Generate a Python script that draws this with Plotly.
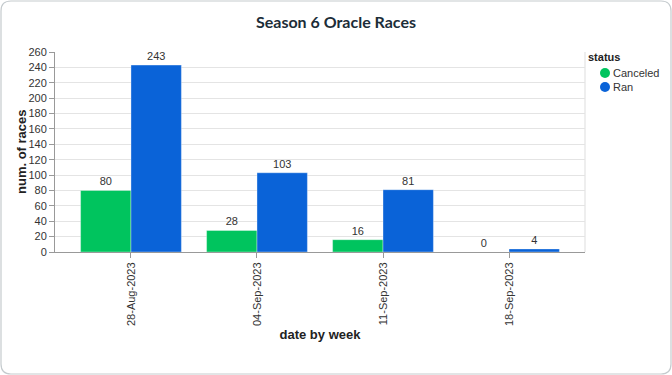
import plotly.graph_objects as go

weeks = ["28-Aug-2023", "04-Sep-2023", "11-Sep-2023", "18-Sep-2023"]
canceled = [80, 28, 16, 0]
ran = [243, 103, 81, 4]
series_names = ["Canceled", "Ran"]
colors = ["#00C45E", "#0A63D8"]

W, H = 672, 375
PL, PR, PT, PB = 55, 585, 52, 252  # plot area in pixels


def px(x):
    return (x - PL) / (PR - PL)


def py(y):
    return (PB - y) / (PB - PT)


fig = go.Figure()
for name, vals, col in zip(series_names, [canceled, ran], colors):
    fig.add_trace(go.Bar(
        x=weeks, y=vals, name=name, showlegend=False,
        marker=dict(color=col, line=dict(color="rgba(255,255,255,0.35)", width=1)),
        text=[str(v) for v in vals], textposition="outside",
        textfont=dict(family="Liberation Sans, Arial", size=11, color="#333"),
        cliponaxis=False,
    ))

fig.update_layout(
    width=W, height=H,
    margin=dict(l=PL, r=W - PR, t=PT, b=H - PB, autoexpand=False),
    paper_bgcolor="white", plot_bgcolor="white",
    barmode="group", bargap=0.2, bargroupgap=0,
    title=dict(text="<b>Season 6 Oracle Races</b>", x=0.5, xanchor="center",
               y=1 - 22 / H, yanchor="middle",
               font=dict(family="Lato, Inter, sans-serif", size=16, color="#1C2D38")),
    font=dict(family="Liberation Sans, Arial", size=11, color="#333"),
    showlegend=False,
)
fig.update_xaxes(
    range=[-0.603, 3.603], tickangle=-90, showgrid=False, automargin=False,
    showline=True, linecolor="#999", linewidth=1,
    ticks="outside", ticklen=5, tickcolor="#999",
    tickfont=dict(size=11, color="#333"),
    title=dict(text="<b>date by week</b>", font=dict(size=13, color="#222"), standoff=4),
)
fig.update_yaxes(
    range=[0, 260], dtick=20, showgrid=True, gridcolor="#E4E4E4", automargin=False,
    showline=True, linecolor="#999", linewidth=1,
    ticks="outside", ticklen=5, tickcolor="#999",
    tickfont=dict(size=11, color="#333"), zeroline=False,
)
# y axis title
fig.add_annotation(text="<b>num. of races</b>", xref="paper", yref="paper", x=px(21), y=0.5,
                   xanchor="center", yanchor="middle", textangle=-90, showarrow=False,
                   font=dict(size=13, color="#222"))
# right border of plot area
fig.add_shape(type="line", xref="paper", yref="paper", x0=1, x1=1, y0=0, y1=1,
              line=dict(color="#DDDDDD", width=1), layer="below")

# legend (drawn manually to match circular swatches)
fig.add_annotation(text="<b>status</b>", xref="paper", yref="paper", x=px(586), y=py(57),
                   xanchor="left", yanchor="middle", showarrow=False,
                   font=dict(size=11, color="#222"))
for i, (name, col) in enumerate(zip(series_names, colors)):
    cy = py(73 + 14 * i)
    fig.add_shape(type="circle", xref="paper", yref="paper", xsizemode="pixel", ysizemode="pixel",
                  xanchor=px(605), yanchor=cy, x0=-5, x1=5, y0=-5, y1=5,
                  fillcolor=col, line=dict(width=0))
    fig.add_annotation(text=name, xref="paper", yref="paper", x=px(611), y=cy,
                       xanchor="left", yanchor="middle", showarrow=False,
                       font=dict(size=11, color="#333"))

# card border with rounded corners (pixels relative to plot bottom-left)
L, R, B, T, r = 1 - PL, 671 - PL, PB - 374, PB - 1, 10
path = (f"M {L+r},{T} L {R-r},{T} Q {R},{T} {R},{T-r} L {R},{B+r} Q {R},{B} {R-r},{B} "
        f"L {L+r},{B} Q {L},{B} {L},{B+r} L {L},{T-r} Q {L},{T} {L+r},{T} Z")
fig.add_shape(type="path", xref="paper", yref="paper", xsizemode="pixel", ysizemode="pixel",
              xanchor=0, yanchor=0, path=path, line=dict(color="#C5CBCE", width=1.2))

fig.write_html("out.html", config={"displayModeBar": False},
               post_script="document.body.style.margin='0';")
